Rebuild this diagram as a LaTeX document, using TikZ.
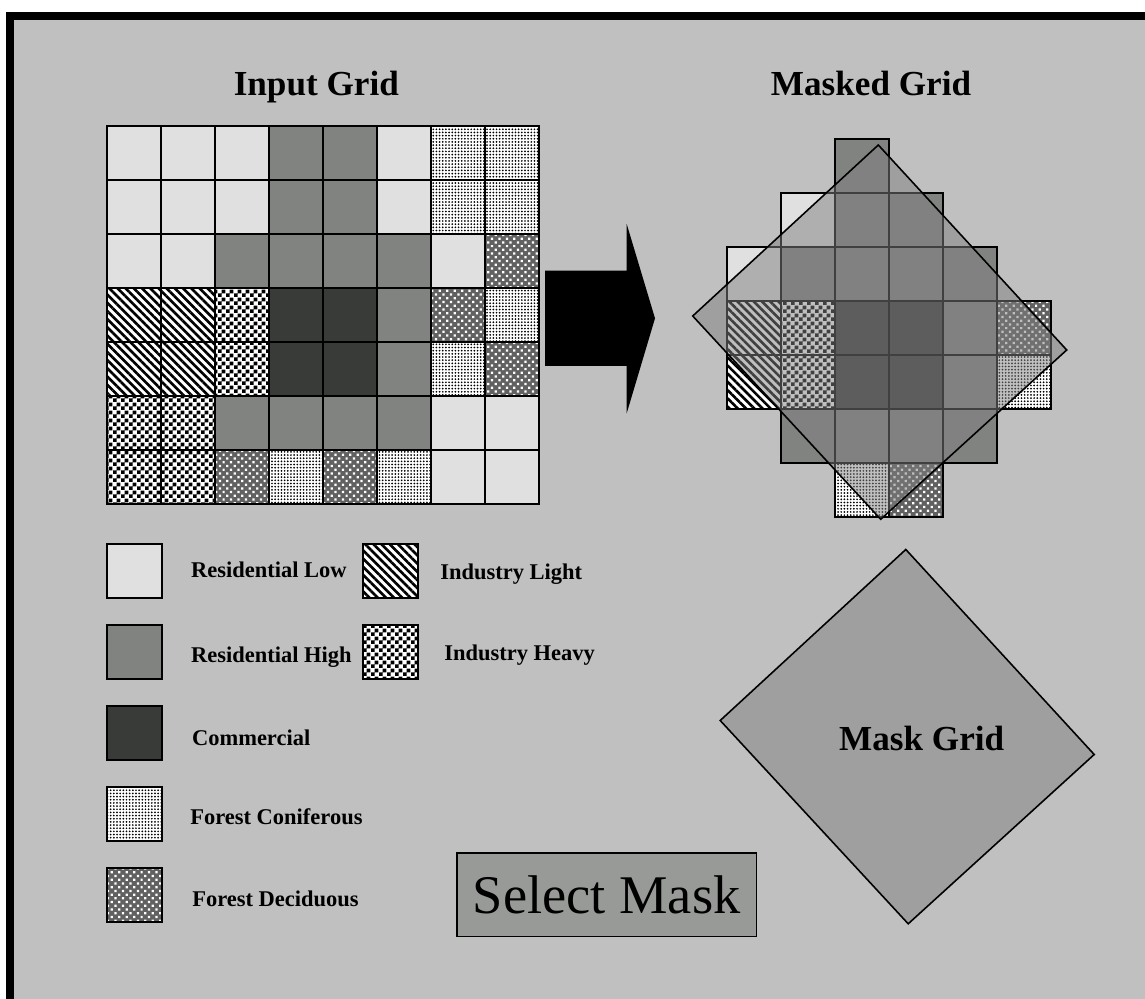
\documentclass[tikz,border=0pt]{standalone}
\usepackage{fontspec}
\setmainfont{Liberation Serif}
\usepackage{tikz}
\usetikzlibrary{patterns.meta}
\usetikzlibrary{positioning, calc}

\definecolor{bggray}{RGB}{192,192,192}
\definecolor{rlgray}{RGB}{224,224,224}
\definecolor{rhgray}{RGB}{128,131,128}
\definecolor{cmgray}{RGB}{56,59,56}
\definecolor{btngray}{RGB}{152,154,152}
\definecolor{maskgray}{RGB}{128,128,128}

% small checks for heavy industry
\pgfdeclarepattern{
  name=smallchecks, type=uncolored,
  bottom left={\pgfpoint{0pt}{0pt}}, top right={\pgfpoint{4.6pt}{4.6pt}},
  tile size={\pgfpoint{4.6pt}{4.6pt}},
  code={\pgfpathrectangle{\pgfpointorigin}{\pgfpoint{2.3pt}{2.3pt}}
    \pgfpathrectangle{\pgfpoint{2.3pt}{2.3pt}}{\pgfpoint{2.3pt}{2.3pt}}
    \pgfusepath{fill}}
}

\begin{document}
\begin{tikzpicture}[x=0.02cm,y=-0.02cm]
\tikzset{
  cell/.style={draw=black,line width=1.1pt},
  resLow/.style={fill=rlgray},
  resHigh/.style={fill=rhgray},
  commerc/.style={fill=cmgray},
  indLight/.style={preaction={fill=white},pattern={Lines[angle=-45,distance=3.3pt,line width=1.5pt]},pattern color=black},
  indHeavy/.style={preaction={fill=white},pattern=smallchecks,pattern color=black},
  forCon/.style={preaction={fill=white},pattern={Dots[radius=.55pt,distance=1.8pt]},pattern color=black},
  forDec/.style={preaction={fill=black!62},pattern={Dots[radius=.9pt,distance=3pt,angle=45]},pattern color=white},
  maskfill/.style={draw=black,line width=0.9pt,fill=maskgray,fill opacity=0.5},
  title/.style={font=\fontsize{20}{24}\selectfont\bfseries,inner sep=0pt},
  keytext/.style={font=\fontsize{12.8}{15}\selectfont\bfseries,inner sep=0pt,anchor=base west}
}
\useasboundingbox (0,0) rectangle (1145,999);
% frame and background
\fill[white] (0,0) rectangle (1145,999);
\fill[black] (6,12) rectangle (1145,999);
\fill[bggray] (14,20) rectangle (1145,999);

% input grid, row by row
\foreach \r/\rowlist in {
  1/{resLow,resLow,resLow,resHigh,resHigh,resLow,forCon,forCon},
  2/{resLow,resLow,resLow,resHigh,resHigh,resLow,forCon,forCon},
  3/{resLow,resLow,resHigh,resHigh,resHigh,resHigh,resLow,forDec},
  4/{indLight,indLight,indHeavy,commerc,commerc,resHigh,forDec,forCon},
  5/{indLight,indLight,indHeavy,commerc,commerc,resHigh,forCon,forDec},
  6/{indHeavy,indHeavy,resHigh,resHigh,resHigh,resHigh,resLow,resLow},
  7/{indHeavy,indHeavy,forDec,forCon,forDec,forCon,resLow,resLow}}{
  \foreach \kind [count=\c] in \rowlist
    \draw[cell,\kind] ({107+54*(\c-1)},{126+54*(\r-1)}) rectangle ++(54,54);
}

% arrow
\fill[black] (545,270.7) -- (626.7,270.7) -- (626.7,224) -- (655,318.3)
  -- (626.7,413.3) -- (626.7,366) -- (545,366) -- cycle;

% masked grid: row / first column / cells
\foreach \r/\c/\rowlist in {
  1/4/{resHigh},
  2/3/{resLow,resHigh,resHigh},
  3/2/{resLow,resHigh,resHigh,resHigh,resHigh},
  4/2/{indLight,indHeavy,commerc,commerc,resHigh,forDec},
  5/2/{indLight,indHeavy,commerc,commerc,resHigh,forCon},
  6/3/{resHigh,resHigh,resHigh,resHigh},
  7/4/{forCon,forDec}}{
  \foreach \kind [count=\k from \c] in \rowlist
    \draw[cell,\kind] ({672.7+54*(\k-1)},{139.3+54*(\r-1)}) rectangle ++(54,54);
}

% mask laid over the grid
\coordinate (mt) at (878.3,145);
\coordinate (mr) at (1066.7,350);
\coordinate (mb) at (880.7,519.3);
\coordinate (ml) at (692.7,316);
\draw[maskfill] (mt) -- (mr) -- (mb) -- (ml) -- cycle;

% mask on its own
\draw[maskfill] ($(mt)+(27.5,404.5)$) -- ($(mr)+(27.5,404.5)$)
  -- ($(mb)+(27.5,404.5)$) -- ($(ml)+(27.5,404.5)$) -- cycle;
\node[title] (maskLbl) at (921.7,738) {Mask Grid};

% legend
\foreach \kind/\y in {resLow/544,resHigh/625,commerc/706,forCon/787,forDec/868}
  \draw[cell,\kind] (107,\y) rectangle ++(55,54);
\foreach \kind/\y in {indLight/544,indHeavy/625}
  \draw[cell,\kind] (363,\y) rectangle ++(55,54);
\node[keytext] (lblResLow) at (190.7,577.7) {Residential Low};
\node[keytext] (lblResHigh) at (190.7,662) {Residential High};
\node[keytext] (lblComm) at (191.7,745.7) {Commercial};
\node[keytext] (lblForCon) at (190,824.3) {Forest Coniferous};
\node[keytext] (lblForDec) at (192,906) {Forest Deciduous};
\node[keytext] (lblIndLight) at (440,579) {Industry Light};
\node[keytext] (lblIndHeavy) at (444,660.7) {Industry Heavy};

% button
\node[draw=black,line width=0.9pt,fill=btngray,minimum width=6cm,minimum height=1.68cm,
  inner sep=0pt,font=\fontsize{31}{36}\selectfont] (selectBtn) at (606.7,894.7) {Select Mask};

% titles
\node[title,anchor=base] (inTitle) at (316.3,96) {Input Grid};
\node[title,anchor=base] (outTitle) at (871,96) {Masked Grid};
\end{tikzpicture}
\end{document}
